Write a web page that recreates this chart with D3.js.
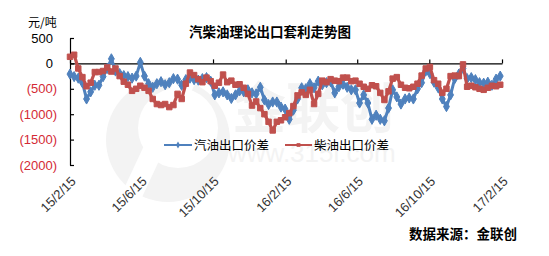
<!DOCTYPE html>
<html><head><meta charset="utf-8">
<script src="https://cdn.jsdelivr.net/npm/d3@7"></script>
<style>
body{margin:0;background:#fff;}
svg{display:block;}
text{font-family:"Liberation Sans",Arial,sans-serif;}
.cjk{font-family:"Noto Sans CJK SC","Noto Sans",sans-serif;}
</style></head><body>
<script>
// ---- data (weekly samples) ----
const startDate = "2015-02-15";
const endDate = "2017-02-15";
const xTickLabels = ["15/2/15","15/6/15","15/10/15","16/2/15","16/6/15","16/10/15","17/2/15"];
const xTickDates = ["2015-02-15","2015-06-15","2015-10-15","2016-02-15","2016-06-15","2016-10-15","2017-02-15"];
const yTicks = [500, 0, -500, -1000, -1500, -2000];
const seriesNames = ["汽油出口价差","柴油出口价差"];
const gasoline = [-210,-260,-290,-380,-700,-560,-430,-430,-260,-100,90,-150,-200,-240,-260,-290,-250,20,-250,-400,
 -470,-400,-360,-420,-380,-300,-310,-430,-320,-290,-320,-330,-300,-280,-350,-620,-580,-560,-620,-690,
 -620,-540,-560,-520,-580,-600,-470,-720,-810,-760,-760,-860,-900,-1100,-920,-700,-480,-500,-400,-480,
 -350,-420,-380,-360,-580,-460,-410,-470,-520,-520,-780,-620,-780,-1100,-1020,-1100,-1130,-880,-520,-660,
 -800,-700,-680,-700,-500,-380,-150,-200,-370,-480,-700,-850,-620,-300,-210,-100,-300,-280,-320,-380,
 -390,-370,-430,-310,-250];
const diesel = [130,170,-100,-270,-450,-380,-170,-170,-150,-80,-160,-100,-250,-360,-420,-540,-500,-440,-480,-540,
 -700,-800,-820,-800,-860,-820,-600,-700,-400,-180,-230,-310,-370,-280,-350,-440,-380,-220,-370,-340,
 -420,-410,-480,-600,-830,-750,-880,-1000,-1150,-1320,-1150,-1120,-1060,-980,-840,-630,-570,-620,-520,-800,
 -600,-340,-370,-310,-340,-350,-280,-280,-350,-340,-400,-460,-500,-430,-450,-580,-720,-550,-300,-270,
 -420,-480,-490,-460,-400,-240,-100,-70,-330,-400,-580,-500,-250,-240,-250,-20,-460,-440,-470,-500,
 -520,-480,-440,-450,-420];

const W = 549, H = 256;
const blue = "#4F81BD", red = "#C0504D";
const parse = d3.timeParse("%Y-%m-%d");
const t0 = parse(startDate);
const dates = gasoline.map((_, i) => d3.timeDay.offset(t0, i * 7));

const svg = d3.select("body").append("svg").attr("width", W).attr("height", H);

// watermark
const wm = svg.append("g").attr("fill", "#f3f3f3");
wm.append("circle").attr("cx", 168).attr("cy", 140).attr("r", 62);
wm.append("circle").attr("cx", 178).attr("cy", 128).attr("r", 40).attr("fill", "#fff");
wm.append("rect").attr("x", 150).attr("y", 60).attr("width", 20).attr("height", 150).attr("fill", "#fff").attr("transform","rotate(25,160,135)");
wm.append("text").attr("class","cjk").attr("x", 232).attr("y", 128).attr("font-size", 54).attr("font-weight","bold").text("金联创");
wm.append("text").attr("x", 228).attr("y", 162).attr("font-size", 26).text("www.315i.com");

const x = d3.scaleTime().domain([parse(startDate), parse(endDate)]).range([70, 502]);
const y = d3.scaleLinear().domain([-2000, 500]).range([165, 38]);

// y axis
const yAxis = svg.append("g").attr("transform", "translate(70,0)")
  .call(d3.axisLeft(y).tickValues(yTicks).tickSizeInner(-4).tickSizeOuter(0).tickPadding(13)
    .tickFormat(v => v < 0 ? "(" + Math.abs(v) + ")" : String(v)));
yAxis.select(".domain").attr("stroke", "#000").attr("stroke-width", 1.2);
yAxis.selectAll(".tick line").attr("stroke", "#000").attr("stroke-width", 1.2);
yAxis.selectAll(".tick text").attr("font-size", 13)
  .attr("fill", d => d < 0 ? "#d42a35" : "#000")
  .attr("dx", d => d < 0 ? 0 : -4)
  .style("font-family", '"Liberation Sans",Arial,sans-serif');

// x axis (ticks at zero line, pointing up)
const xTicks = xTickDates.map(parse);
const xAxis = svg.append("g").attr("transform", `translate(0,${y(0)})`)
  .call(d3.axisTop(x).tickValues(xTicks).tickSizeInner(4).tickSizeOuter(0).tickFormat(""));
xAxis.select(".domain").attr("stroke", "#000").attr("stroke-width", 1.2);
xAxis.selectAll(".tick line").attr("stroke", "#000").attr("stroke-width", 1.2);

// rotated labels at bottom
const xLab = svg.append("g").attr("transform", "translate(0,165)")
  .call(d3.axisBottom(x).tickValues(xTicks).tickSize(0).tickFormat((d, i) => xTickLabels[i]));
xLab.select(".domain").remove();
xLab.selectAll(".tick text").attr("font-size", 13).attr("fill", "#333")
  .attr("text-anchor", "end").attr("x", 0).attr("y", 0).attr("dy", "0.35em")
  .attr("transform", "translate(3,14) rotate(-45)")
  .style("font-family", '"Liberation Sans",Arial,sans-serif');

// series
const line = d3.line().x((d, i) => x(dates[i])).y(d => y(d));
function drawSeries(vals, color, shape, size, sw) {
  svg.append("path").datum(vals).attr("d", line).attr("fill", "none")
    .attr("stroke", color).attr("stroke-width", sw).attr("stroke-linejoin", "round");
  svg.append("g").selectAll("path").data(vals).join("path")
    .attr("d", d3.symbol().type(shape).size(size))
    .attr("transform", (d, i) => `translate(${x(dates[i])},${y(d)})`)
    .attr("fill", color).attr("stroke", color).attr("stroke-width", 1);
}
drawSeries(gasoline, blue, d3.symbolDiamond, 30, 3);
drawSeries(diesel, red, d3.symbolSquare, 30, 3.2);

// legend
const lg = svg.append("g");
lg.append("line").attr("x1", 164).attr("x2", 192).attr("y1", 145).attr("y2", 145).attr("stroke", blue).attr("stroke-width", 2);
lg.append("path").attr("d", d3.symbol().type(d3.symbolDiamond).size(14)).attr("transform", "translate(178,145)").attr("fill", blue);
lg.append("text").attr("class","cjk").attr("x", 194).attr("y", 145).attr("dy", "0.36em").attr("font-size", 12.5).text(seriesNames[0]);
lg.append("line").attr("x1", 285).attr("x2", 312).attr("y1", 145).attr("y2", 145).attr("stroke", red).attr("stroke-width", 2);
lg.append("path").attr("d", d3.symbol().type(d3.symbolSquare).size(14)).attr("transform", "translate(298.5,145)").attr("fill", red);
lg.append("text").attr("class","cjk").attr("x", 314).attr("y", 145).attr("dy", "0.36em").attr("font-size", 12.5).text(seriesNames[1]);

// titles
svg.append("text").attr("class","cjk").attr("x", 270).attr("y", 32).attr("dy", "0.36em")
  .attr("text-anchor", "middle").attr("font-size", 13.5).attr("font-weight", "bold").text("汽柴油理论出口套利走势图");
svg.append("text").attr("class","cjk").attr("x", 28).attr("y", 23).attr("dy", "0.36em")
  .attr("font-size", 12).text("元/吨");
svg.append("text").attr("class","cjk").attr("x", 517).attr("y", 234).attr("dy", "0.36em")
  .attr("text-anchor", "end").attr("font-size", 13.5).attr("font-weight", "bold").text("数据来源：金联创");
</script>
</body></html>
